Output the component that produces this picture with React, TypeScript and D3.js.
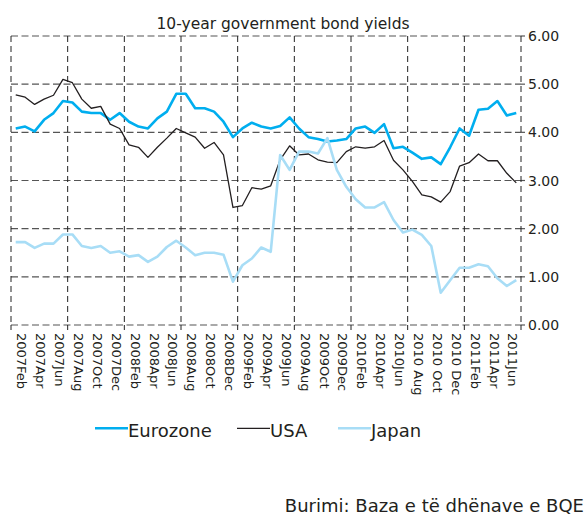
import React from "react";
import * as d3 from "d3";

const months = [
  "2007Feb","2007Mar","2007Apr","2007May","2007Jun","2007Jul","2007Aug","2007Sep","2007Oct","2007Nov","2007Dec",
  "2008Jan","2008Feb","2008Mar","2008Apr","2008May","2008Jun","2008Jul","2008Aug","2008Sep","2008Oct","2008Nov","2008Dec",
  "2009Jan","2009Feb","2009Mar","2009Apr","2009May","2009Jun","2009Jul","2009Aug","2009Sep","2009Oct","2009Nov","2009Dec",
  "2010Jan","2010Feb","2010Mar","2010Apr","2010May","2010Jun","2010Jul","2010Aug","2010Sep","2010Oct","2010Nov","2010Dec",
  "2011Jan","2011Feb","2011Mar","2011Apr","2011May","2011Jun","2011Jul",
];

const xTickLabels = [
  "2007Feb","2007Apr","2007Jun","2007Aug","2007Oct","2007Dec",
  "2008Feb","2008Apr","2008Jun","2008Aug","2008Oct","2008Dec",
  "2009Feb","2009Apr","2009Jun","2009Aug","2009Oct","2009Dec",
  "2010Feb","2010Apr","2010Jun","2010 Aug","2010 Oct","2010 Dec",
  "2011Feb","2011Apr","2011Jun",
];

const yTicks = [0, 1, 2, 3, 4, 5, 6];

const eurozone = [
  4.08,4.12,4.02,4.26,4.40,4.65,4.62,4.43,4.40,4.40,4.26,
  4.40,4.22,4.12,4.08,4.29,4.43,4.80,4.80,4.50,4.50,4.43,4.22,
  3.90,4.08,4.20,4.12,4.08,4.13,4.31,4.08,3.90,3.86,3.81,3.83,
  3.86,4.08,4.12,3.99,4.17,3.67,3.70,3.58,3.45,3.48,3.34,3.69,
  4.08,3.93,4.47,4.49,4.65,4.35,4.40,
];

const usa = [
  4.78,4.73,4.58,4.69,4.77,5.10,5.03,4.69,4.50,4.54,4.17,
  4.08,3.74,3.69,3.48,3.69,3.88,4.08,3.99,3.90,3.67,3.79,3.53,
  2.44,2.48,2.85,2.82,2.89,3.43,3.72,3.53,3.55,3.43,3.38,3.37,
  3.60,3.70,3.67,3.70,3.83,3.42,3.22,2.98,2.70,2.66,2.55,2.77,
  3.30,3.37,3.55,3.41,3.41,3.15,2.95,
];

const japan = [
  1.72,1.72,1.60,1.69,1.69,1.88,1.88,1.64,1.60,1.64,1.50,
  1.53,1.42,1.45,1.31,1.42,1.62,1.75,1.61,1.45,1.50,1.50,1.46,
  0.90,1.24,1.38,1.61,1.52,3.53,3.22,3.60,3.60,3.56,3.88,3.22,
  2.87,2.61,2.44,2.44,2.55,2.18,1.92,1.98,1.87,1.64,0.67,0.93,
  1.19,1.19,1.26,1.22,0.97,0.81,0.93,
];

const seriesNames = ["Eurozone", "USA", "Japan"];
const seriesColors = ["#00aeef", "#231f20", "#a8ddf6"];
const seriesWidths = [2.6, 1.3, 2.6];

const FONT = "'DejaVu Sans', sans-serif";

export default function App() {
  const W = 587, H = 521;
  const left = 11, right = 521, top = 36, bottom = 325;

  const x = d3.scaleBand<string>().domain(months).range([left, right]).paddingInner(0).paddingOuter(0);
  const bw = x.bandwidth();
  const cx = (m: string) => (x(m) as number) + bw / 2;
  const y = d3.scaleLinear().domain([0, 6]).range([bottom, top]);

  const seriesData = [eurozone, usa, japan];
  const line = d3.line<number>().x((_, i) => cx(months[i])).y((v) => y(v));

  const vGrid: number[] = [];
  months.forEach((m, i) => { if (i % 6 === 0) vGrid.push(x(m) as number); });
  vGrid.push(right);

  const legendX = [95, 237, 338];

  return (
    <svg width={W} height={H} style={{ position: "absolute", left: 0, top: 0, background: "#fff" }}
      fontFamily={FONT}>
      <rect x={0} y={0} width={W} height={H} fill="#fff" />
      <text x={283} y={28.5} textAnchor="middle" fontSize={15.5} fill="#231f20">10-year government bond yields</text>

      {/* horizontal grid */}
      {yTicks.map((t) => (
        <g key={"h" + t}>
          <line x1={left} x2={right} y1={y(t)} y2={y(t)} stroke="#555" strokeWidth={1.2} strokeDasharray="7,3.5" />
          <line x1={right} x2={right + 4} y1={y(t)} y2={y(t)} stroke="#555" strokeWidth={1.2} />
          <text x={528} y={y(t) + 5.1} fontSize={14} fill="#231f20">{t.toFixed(2)}</text>
        </g>
      ))}

      {/* vertical grid */}
      {vGrid.map((gx, i) => (
        <g key={"v" + i}>
          <line x1={gx} x2={gx} y1={top} y2={bottom} stroke="#222" strokeWidth={1} strokeDasharray="6,4" />
          <line x1={gx} x2={gx} y1={bottom} y2={bottom + 5} stroke="#222" strokeWidth={1} />
        </g>
      ))}

      {/* series */}
      {seriesData.map((s, i) => (
        <path key={seriesNames[i]} d={line(s) as string} fill="none" stroke={seriesColors[i]}
          strokeWidth={seriesWidths[i]} strokeLinejoin="round" />
      ))}

      {/* x labels */}
      {xTickLabels.map((lab, i) => {
        const px = cx(months[i * 2]) + 1.6;
        const py = 333;
        return (
          <text key={lab} x={px} y={py} fontSize={13} fill="#231f20" transform={`rotate(90, ${px}, ${py})`}>{lab}</text>
        );
      })}

      {/* legend */}
      {seriesNames.map((n, i) => (
        <g key={"lg" + n}>
          <line x1={legendX[i]} x2={legendX[i] + 33} y1={428.3} y2={428.3} stroke={seriesColors[i]} strokeWidth={seriesWidths[i]} />
          <text x={legendX[i] + 33} y={436.5} fontSize={18} fill="#231f20">{n}</text>
        </g>
      ))}

      <text x={584} y={512} textAnchor="end" fontSize={18} fill="#231f20">Burimi: Baza e të dhënave e BQE</text>
    </svg>
  );
}
